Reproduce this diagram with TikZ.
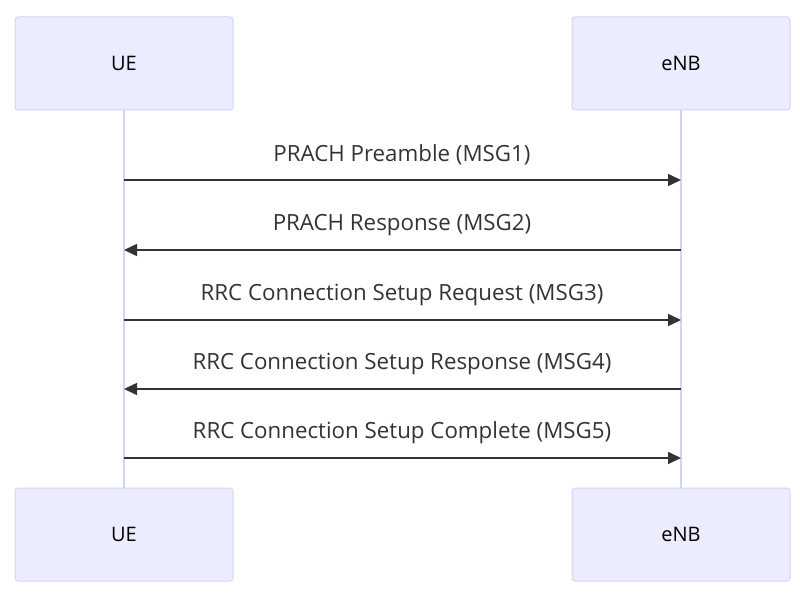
\documentclass[tikz,border=0pt]{standalone}
\usepackage{fontspec}
\setmainfont{Open Sans}
\usetikzlibrary{arrows.meta}
\definecolor{boxfill}{HTML}{ECECFF}
\definecolor{boxline}{HTML}{D4D4F4}
\definecolor{life}{HTML}{D4D4F0}
\definecolor{msg}{HTML}{333333}
\begin{document}
\begin{tikzpicture}[x=1pt,y=-1pt,
  actor/.style={draw=boxline,fill=boxfill,rounded corners=3pt,minimum width=218pt,minimum height=93pt,font=\fontsize{20}{24}\selectfont,line width=1pt},
  lifeline/.style={draw=life,line width=2pt},
  msgarrow/.style={draw=msg,line width=1.6pt,-{Triangle[length=13pt,width=12pt]}},
  lbl/.style={font=\fontsize{22.3}{26}\selectfont,text=msg}]
\useasboundingbox (0,0) rectangle (800,593);
\node[actor] (ueT) at (124,63.5) {UE};
\node[actor] (enT) at (681,63.5) {eNB};
\node[actor] (ueB) at (124,534.5) {UE};
\node[actor] (enB) at (681,534.5) {eNB};
\draw[lifeline] (ueT.south) -- (ueB.north);
\draw[lifeline] (enT.south) -- (enB.north);
\foreach \y/\d/\t in {180/r/PRACH Preamble (MSG1),250/l/PRACH Response (MSG2),320/r/RRC Connection Setup Request (MSG3),389/l/RRC Connection Setup Response (MSG4),458/r/RRC Connection Setup Complete (MSG5)}{
  \coordinate (a) at (124,\y);
  \coordinate (b) at (681,\y);
  \if r\d \draw[msgarrow] (a) -- (b); \else \draw[msgarrow] (b) -- (a); \fi
  \node[lbl] (t\y) at (402,\y-25) {\t};
}
\end{tikzpicture}
\end{document}
